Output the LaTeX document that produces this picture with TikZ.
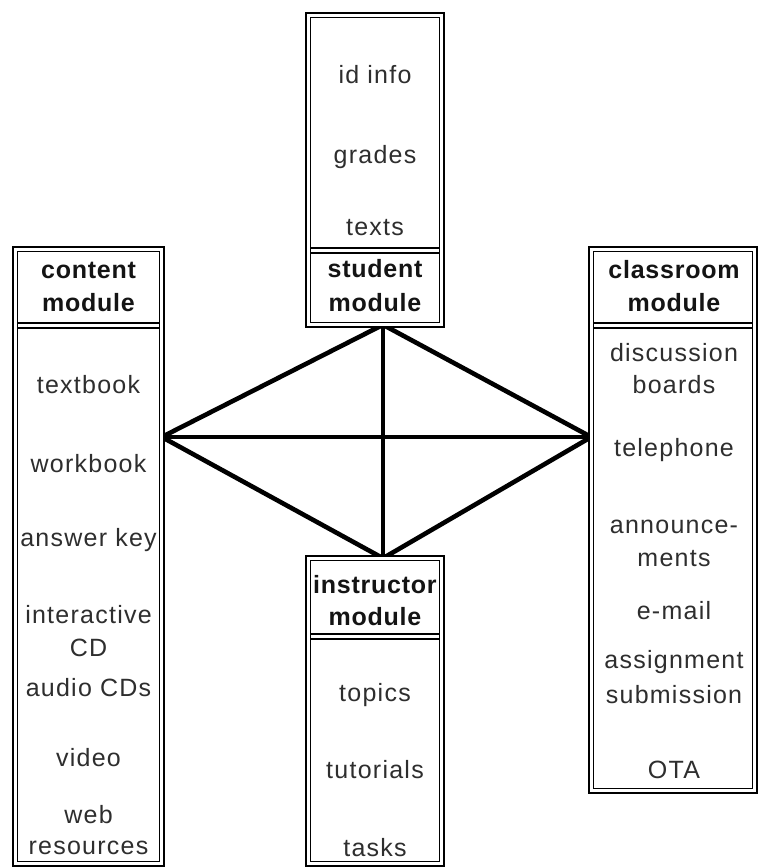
\documentclass[tikz,border=0pt]{standalone}
\usepackage{fontspec}
\setmainfont{Liberation Sans}
\pgfdeclarelayer{background}
\pgfsetlayers{background,main}
\begin{document}
\begin{tikzpicture}[x=1pt,y=-1pt,
  modbox/.style={rectangle, draw=black, double=white, line width=1.6pt, double distance=3.2pt, fill=white, inner sep=0pt, outer sep=0pt},
  divider/.style={line width=1.6pt},
  link/.style={line width=4.6pt, line cap=round},
  lbl/.style={font=\fontsize{25}{30}\selectfont\addfontfeatures{LetterSpace=5}, text=black!82, inner sep=0pt},
  hdr/.style={font=\fontsize{25}{30}\selectfont\bfseries\addfontfeatures{LetterSpace=3}, text=black!92, inner sep=0pt}]
\useasboundingbox (0,0) rectangle (759,868);

% boxes
\node[modbox, minimum width=133.6pt, minimum height=309.6pt] (student) at (375,170) {};
\node[modbox, minimum width=146.6pt, minimum height=614.6pt] (content) at (88.5,556.5) {};
\node[modbox, minimum width=163.6pt, minimum height=541.6pt] (classroom) at (673,520) {};
\node[modbox, minimum width=133.6pt, minimum height=305.6pt] (instructor) at (375,711) {};

% dividers (double lines)
\foreach \b/\ya/\yb in {student/248/253, content/323/328, classroom/323/328, instructor/634/639}{
  \draw[divider] ([xshift=2.4pt]\b.west |- 0,\ya) -- ([xshift=-2.4pt]\b.east |- 0,\ya);
  \draw[divider] ([xshift=2.4pt]\b.west |- 0,\yb) -- ([xshift=-2.4pt]\b.east |- 0,\yb);
}

% connector end points
\coordinate (sB) at ([xshift=8pt]student.south);
\coordinate (iT) at ([xshift=8pt]instructor.north);
\coordinate (cR) at (content.east |- 0,437);
\coordinate (rL) at (classroom.west |- 0,437);
\begin{pgfonlayer}{background}
  \draw[link] (sB) -- (cR);
  \draw[link] (sB) -- (rL);
  \draw[link] (sB) -- (iT);
  \draw[link] (cR) -- (rL);
  \draw[link] (cR) -- (iT);
  \draw[link] (rL) -- (iT);
\end{pgfonlayer}

% student module
\node[lbl] (s1) at (375,75) {id info};
\node[lbl] (s2) at (375,157) {grades};
\node[lbl] (s3) at (375,228) {texts};
\node[hdr] (sh1) at (375,269) {student};
\node[hdr] (sh2) at (375,303) {module};

% content module
\node[hdr] (ch1) at (88.5,270) {content};
\node[hdr] (ch2) at (88.5,303) {module};
\node[lbl] (c1) at (88.5,385) {textbook};
\node[lbl] (c2) at (88.5,464) {workbook};
\node[lbl] (c3) at (88.5,540) {answer key};
\node[lbl] (c4) at (88.5,615) {interactive};
\node[lbl] (c5) at (88.5,648) {CD};
\node[lbl] (c6) at (88.5,688) {audio CDs};
\node[lbl] (c7) at (88.5,758) {video};
\node[lbl] (c8) at (88.5,815) {web};
\node[lbl] (c9) at (88.5,848) {resources};

% classroom module
\node[hdr] (rh1) at (674,270) {classroom};
\node[hdr] (rh2) at (674,303) {module};
\node[lbl] (r1) at (674,353) {discussion};
\node[lbl] (r2) at (674,385) {boards};
\node[lbl] (r3) at (674,450) {telephone};
\node[lbl] (r4) at (674,527) {announce-};
\node[lbl] (r5) at (674,559) {ments};
\node[lbl] (r6) at (674,611) {e-mail};
\node[lbl] (r7) at (674,662) {assignment};
\node[lbl] (r8) at (674,695) {submission};
\node[lbl] (r9) at (674,770) {OTA};

% instructor module
\begin{scope}
  \clip ([xshift=3.2pt]instructor.north west) rectangle ([xshift=-3.2pt]instructor.south east);
  \node[hdr, anchor=west] (ih1) at (313,585) {instructor};
\end{scope}
\node[hdr] (ih2) at (375,617) {module};
\node[lbl] (i1) at (375,695) {topics};
\node[lbl] (i2) at (375,770) {tutorials};
\node[lbl] (i3) at (375,848) {tasks};
\end{tikzpicture}
\end{document}
